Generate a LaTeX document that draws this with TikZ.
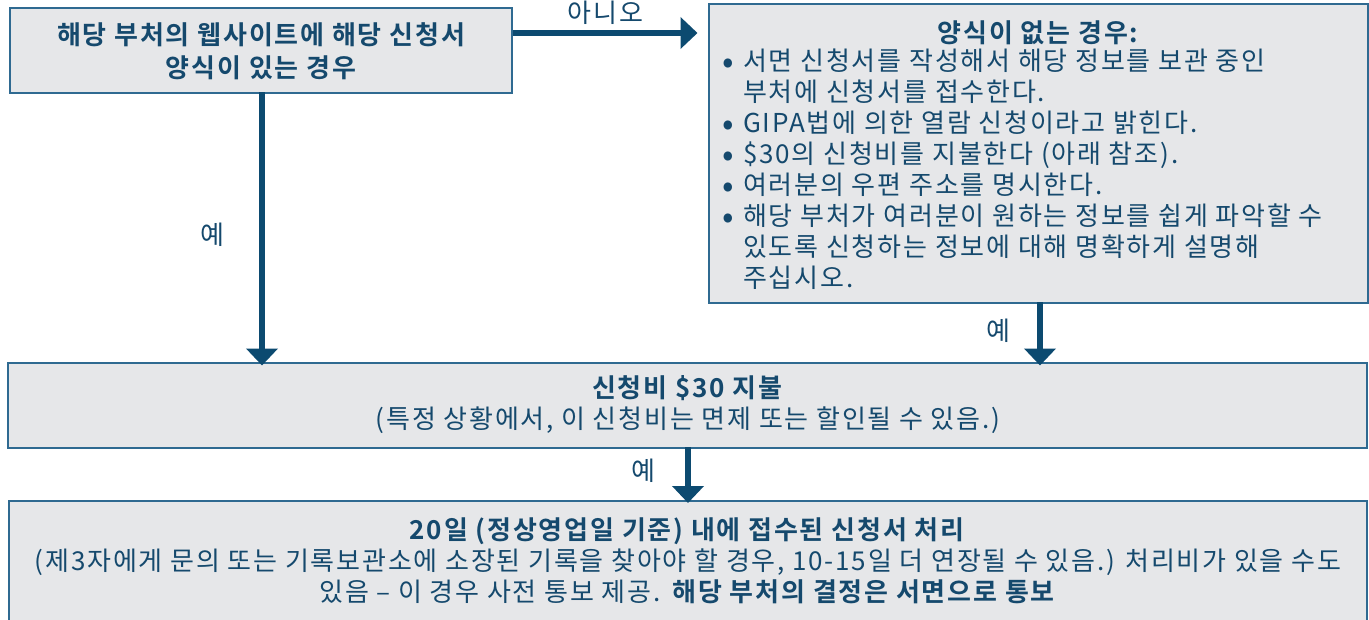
\documentclass[tikz,border=0pt]{standalone}
\usepackage{fontspec}
\setmainfont{Noto Sans CJK KR}[BoldFont={Noto Sans CJK KR Bold}, LetterSpace=7]
\usetikzlibrary{arrows.meta}

\definecolor{boxfill}{HTML}{E6E7E9}
\definecolor{boxline}{HTML}{2F6A91}
\definecolor{flowblue}{HTML}{0C4A70}
\definecolor{navytext}{HTML}{15496D}

\newlength{\bulind}
\setlength{\bulind}{21pt}
\newcommand{\bul}{\makebox[\bulind][l]{\smash{\raisebox{-3pt}{\fontsize{34}{26}\selectfont\textbullet}}}}
\newcommand{\ind}{\hspace*{\bulind}}

\begin{document}
\begin{tikzpicture}[x=1pt, y=-1pt,
    every node/.style={text=navytext, font=\fontsize{26}{31}\selectfont},
    stepbox/.style={draw=boxline, line width=2pt, fill=boxfill, inner sep=0pt},
    flow/.style={draw=flowblue, line width=5.5pt, -{Triangle[length=17pt, width=31pt]}}]
  \useasboundingbox (0,0) rectangle (1369,619);
  \clip (0,0) rectangle (1369,619);

  % boxes
  \node[stepbox, minimum width=502pt, minimum height=85pt] (form) at (261,50) {};
  \node[stepbox, minimum width=659pt, minimum height=299pt] (noform) at (1038,153.5) {};
  \node[stepbox, minimum width=1359pt, minimum height=85pt] (fee) at (687.5,405) {};
  \node[stepbox, minimum width=1358pt, minimum height=160pt] (process) at (688,581) {};

  % texts
  \node[align=center, font=\fontsize{26}{33}\selectfont\bfseries] (formtxt) at (261,51)
    {해당 부처의 웹사이트에 해당 신청서\\양식이 있는 경우};
  \node[font=\fontsize{26}{31}\selectfont\bfseries] (noformhead) at (1038,33) {양식이 없는 경우:};
  \node[align=left, anchor=north west, inner sep=0pt] (noformlist) at (722,49)
    {\bul 서면 신청서를 작성해서 해당 정보를 보관 중인\\
     \ind 부처에 신청서를 접수한다.\\
     \bul GIPA법에 의한 열람 신청이라고 밝힌다.\\
     \bul \$30의 신청비를 지불한다 (아래 참조).\\
     \bul 여러분의 우편 주소를 명시한다.\\
     \bul 해당 부처가 여러분이 원하는 정보를 쉽게 파악할 수\\
     \ind 있도록 신청하는 정보에 대해 명확하게 설명해\\
     \ind 주십시오.};
  \node[align=center] (feetxt) at (688,405)
    {\textbf{신청비 \$30 지불}\\(특정 상황에서, 이 신청비는 면제 또는 할인될 수 있음.)};
  \node[align=center] (processtxt) at (688,561)
    {\textbf{20일 (정상영업일 기준) 내에 접수된 신청서 처리}\\
     (제3자에게 문의 또는 기록보관소에 소장된 기록을 찾아야 할 경우, 10-15일 더 연장될 수 있음.) 처리비가 있을 수도\\
     있음 – 이 경우 사전 통보 제공. \textbf{해당 부처의 결정은 서면으로 통보}};

  % connectors
  \draw[flow] (form.east |- 0,33) -- ([xshift=-10pt]noform.west |- 0,33)
    node[midway, above=2pt] (no) {아니오};
  \draw[flow] (262,92) -- ([yshift=-4pt]fee.north -| 262,0);
  \draw[flow] (1040,302) -- ([yshift=-4pt]fee.north -| 1040,0);
  \draw[flow] (688,447) -- ([yshift=-3pt]process.north -| 688,0);

  \node (yesa) at (212,235) {예};
  \node (yesb) at (998,331) {예};
  \node (yesc) at (643,471) {예};
\end{tikzpicture}
\end{document}
